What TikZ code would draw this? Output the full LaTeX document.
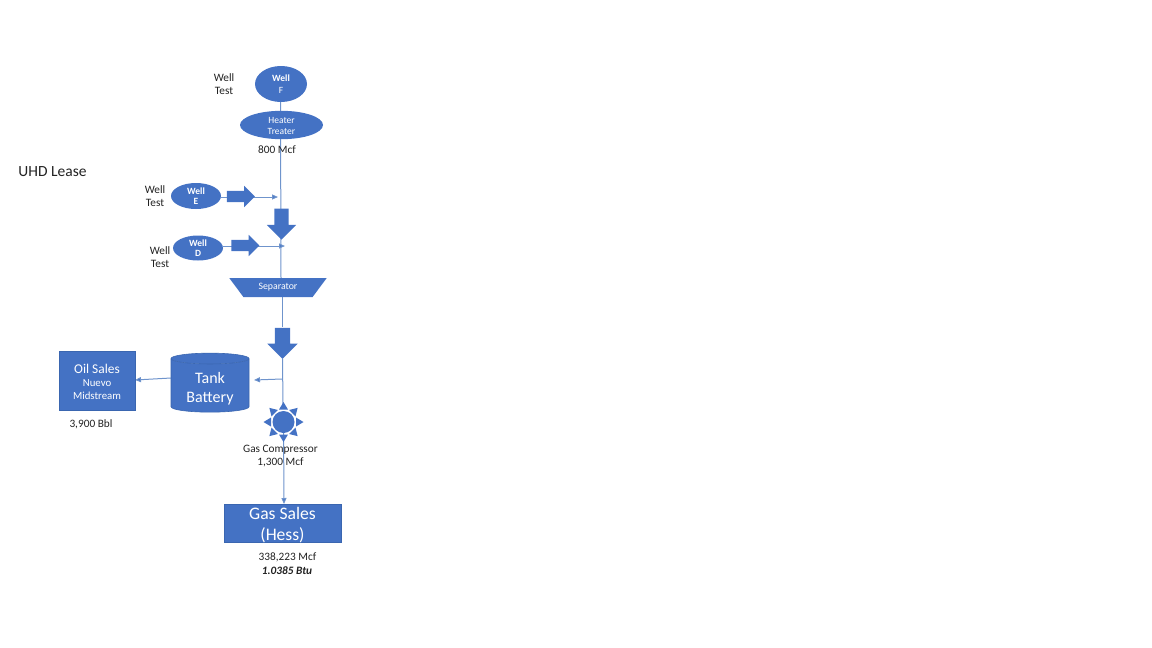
\documentclass[tikz,border=0pt]{standalone}
\usepackage{fontspec}
\setmainfont{Carlito}
\usetikzlibrary{shapes.geometric,shapes.arrows,arrows.meta}
\definecolor{fillblue}{HTML}{4472C4}
\definecolor{edgeblue}{HTML}{3A66B0}
\definecolor{lineblue}{HTML}{6F94CC}
\definecolor{inktext}{HTML}{222222}
\tikzset{
  x=1pt,y=-1pt,
  inner sep=0pt,outer sep=0pt,
  oval/.style={ellipse,fill=fillblue,text=white,align=center},
  box/.style={rectangle,fill=fillblue,draw=edgeblue,line width=.5pt,text=white,align=center},
  lbl/.style={text=inktext,align=center,font=\fontsize{11.3}{13}\selectfont},
  rarrow/.style={single arrow,fill=fillblue,single arrow head indent=0pt,single arrow head extend=5pt,minimum height=28pt,minimum width=21pt},
  darrow/.style={single arrow,shape border rotate=270,fill=fillblue,single arrow head indent=0pt,single arrow head extend=7.5pt,minimum height=31pt,minimum width=29pt},
  conn/.style={draw=lineblue,line width=1pt},
  tip/.style={conn,-{Triangle[length=6pt,width=5pt,fill=fillblue]}},
}
\begin{document}
\begin{tikzpicture}
\useasboundingbox (0,0) rectangle (1152,648);
% connectors first, so that shapes sit over them
\coordinate (eEnd) at (278,197);
\coordinate (dEnd) at (285,246);
\coordinate (tankIn) at (254,380);
\coordinate (tankFrom) at (282,379);
\coordinate (topLine) at (280.5,102);
\coordinate (sepTop) at (281,278);
\coordinate (sepBottom) at (282,297);
\coordinate (arrTop) at (282,327);
\coordinate (arrTip) at (282.5,359);
\coordinate (compTop) at (283,404);
\coordinate (gasTop) at (284,504);
\coordinate (compMid) at (283.5,422);
\coordinate (wellEOut) at (221,197);
\coordinate (wellDOut) at (223,246);
\coordinate (tankOut) at (171,378);
\coordinate (oilIn) at (135,380);

\draw[conn] (topLine) -- (sepTop);
\draw[conn] (sepBottom) -- (arrTop);
\draw[conn] (arrTip) -- (compTop);
\draw[tip] (compMid) -- (gasTop);
\draw[tip] (wellEOut) -- (eEnd);
\draw[tip] (wellDOut) -- (dEnd);
\draw[tip] (tankFrom) -- (tankIn);
\draw[tip] (tankOut) -- (oilIn);

% wells and heater
\node[oval,minimum width=52pt,minimum height=36pt,font=\fontsize{9.5}{11.5}\selectfont] (wellF) at (281,84) {\textbf{Well}\\F};
\node[oval,minimum width=83pt,minimum height=26pt,font=\fontsize{9.5}{11}\selectfont] (heater) at (281.5,125) {\rule{0pt}{9pt}Heater\\Treater};
\node[oval,minimum width=50pt,minimum height=26pt,font=\fontsize{9.5}{10.5}\selectfont] (wellE) at (196,196) {\textbf{Well}\\\textbf{E}};
\node[oval,minimum width=50pt,minimum height=25pt,font=\fontsize{9.5}{10.5}\selectfont] (wellD) at (198,248) {\textbf{Well}\\\textbf{D}};

% block arrows
\node[rarrow] (arrowE) at (238,196.5) {\rule{0pt}{11pt}};
\node[rarrow] (arrowD) at (242.5,245.5) {\rule{0pt}{11pt}};
\node[darrow] (arrowA) at (281.5,220.5) {\rule{14pt}{0pt}};
\node[darrow] (arrowB) at (282.5,339.5) {\rule{15pt}{0pt}};

% separator
\node[trapezium,shape border rotate=180,trapezium stretches=true,fill=fillblue,text=white,minimum width=98pt,minimum height=19pt,trapezium left angle=45,trapezium right angle=45,font=\fontsize{9.8}{10}\selectfont] (separator) at (278,287.5) {Separator};

% tank
\node[cylinder,shape border rotate=90,aspect=0.23,cylinder uses custom fill,cylinder body fill=fillblue,cylinder end fill=fillblue,draw=edgeblue,line width=.6pt,minimum width=78pt,minimum height=59pt,text=white,align=center,font=\fontsize{16}{19.5}\selectfont] (tank) at (210,385.5) {\rule{0pt}{18pt}Tank\\Battery};

% sales boxes
\node[box,minimum width=76pt,minimum height=59pt,font=\fontsize{10.8}{13}\selectfont] (oil) at (97,380.5) {\rule{0pt}{12pt}{\fontsize{13.4}{13}\selectfont Oil Sales}\\Nuevo\\Midstream};
\node[box,inner ysep=-3pt,minimum width=117pt,minimum height=38pt,font=\fontsize{17.6}{21}\selectfont] (gas) at (282.5,523) {\rule{0pt}{17pt}Gas Sales\\(Hess)};

% compressor
\node[circle,fill=fillblue,minimum size=22pt] (comp) at (compMid) {};
\foreach \a/\r in {0/20,90/20,180/20,270/20,45/20,135/20,225/20,315/20}{
  \fill[fillblue,shift={(comp.center)},rotate=\a] (\r,0) -- (12.5,-4.5) -- (12.5,4.5) -- cycle;
}

% labels
\node[lbl] (labF) at (224,84) {Well\\Test};
\node[lbl] (lab800) at (277,150) {800 Mcf};
\node[lbl] (labE) at (155,196) {Well\\Test};
\node[lbl] (labD) at (160,257) {Well\\Test};
\node[text=inktext,font=\fontsize{15.5}{17}\selectfont] (lease) at (52.5,172) {UHD Lease};
\node[lbl] (labBbl) at (91,424) {3,900 Bbl};
\node[lbl] (labComp) at (280.5,456) {Gas Compressor\\1,300 Mcf};
\node[lbl] (labSales) at (287.5,557) {338,223 Mcf};
\node[lbl,font=\fontsize{11.3}{13}\selectfont\bfseries\itshape] (labBtu) at (287,571) {1.0385 Btu};
\end{tikzpicture}
\end{document}
